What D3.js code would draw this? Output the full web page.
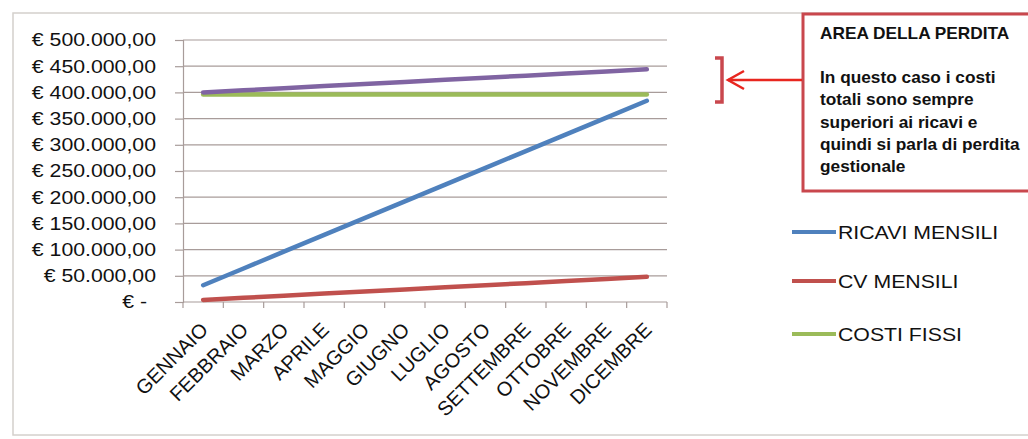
<!DOCTYPE html>
<html><head><meta charset="utf-8">
<script src="https://cdn.jsdelivr.net/npm/d3@7"></script>
<style>body{margin:0;background:#fff;}svg{display:block;font-family:"Liberation Sans",Arial,sans-serif;}</style>
</head><body><svg id="c" width="1028" height="439"></svg>
<script>
const months = ["GENNAIO","FEBBRAIO","MARZO","APRILE","MAGGIO","GIUGNO","LUGLIO","AGOSTO","SETTEMBRE","OTTOBRE","NOVEMBRE","DICEMBRE"];
const ricavi = [32000,64000,96000,128000,160000,192000,224000,256000,288000,320000,352000,384000];
const cvMensili = [4000,8000,12000,16000,20000,24000,28000,32000,36000,40000,44000,48000];
const costiFissi = [396000,396000,396000,396000,396000,396000,396000,396000,396000,396000,396000,396000];
const costiTotali = [400000,404000,408000,412000,416000,420000,424000,428000,432000,436000,440000,444000];
const yTicks = [0,50000,100000,150000,200000,250000,300000,350000,400000,450000,500000];
const noteTitle = "AREA DELLA PERDITA";
const noteLines = ["In questo caso i costi","totali sono sempre","superiori ai ricavi e","quindi si parla di perdita","gestionale"];

const svg = d3.select("#c");
const L = 183, R = 667, T = 40, B = 302;
const x = d3.scaleBand().domain(months).range([L, R]);
const y = d3.scaleLinear().domain([0, 500000]).range([B, T]);
const FF = "'Liberation Sans',Arial,sans-serif";

// outer frame
svg.append("rect").attr("x",13).attr("y",13).attr("width",1030).attr("height",422)
  .attr("fill","none").attr("stroke","#d4d0cc").attr("stroke-width",1.5);

// gridlines
svg.append("g").selectAll("line").data(yTicks.filter(d=>d>0)).join("line")
  .attr("x1",L).attr("x2",R).attr("y1",d=>y(d)).attr("y2",d=>y(d))
  .attr("stroke","#a89c9a").attr("stroke-width",1.2);

function fmt(v){
  if(v===0) return "€ -";
  return "€ " + d3.format(",.2f")(v).replace(/,/g,"#").replace(/\./g,",").replace(/#/g,".");
}
const yAxis = svg.append("g").attr("transform",`translate(${L},0)`)
  .call(d3.axisLeft(y).tickValues(yTicks).tickSize(8).tickPadding(19).tickFormat(fmt));
yAxis.select(".domain").attr("stroke","#a89c9a").attr("stroke-width",1.2);
yAxis.selectAll(".tick line").attr("stroke","#a89c9a").attr("stroke-width",1.2);
yAxis.selectAll("text").attr("font-size",18.5).attr("fill","#111").attr("font-family",FF)
  .attr("x",null)
  .attr("transform",d=>`translate(${d===0?-36:-27},0) scale(1.15,1)`);

// x axis
const xg = svg.append("g").attr("transform",`translate(0,${B})`);
xg.append("line").attr("x1",L).attr("x2",R).attr("stroke","#a89c9a").attr("stroke-width",1.2);
xg.selectAll("line.tk").data(months.map((m,i)=>i).concat([12])).join("line").attr("class","tk")
  .attr("x1",i=>L+i*x.bandwidth()).attr("x2",i=>L+i*x.bandwidth()).attr("y1",0).attr("y2",6)
  .attr("stroke","#a89c9a").attr("stroke-width",1.2);
xg.selectAll("text").data(months).join("text")
  .attr("transform",d=>`translate(${x(d)+x.bandwidth()/2+6},${29}) rotate(-45)`)
  .attr("text-anchor","end").attr("font-size",20).attr("fill","#111").text(d=>d);

// lines
const line = d3.line().x((d,i)=>x(months[i])+x.bandwidth()/2).y(d=>y(d));
const series = [
  {v:costiFissi,c:"#9bbb59"},
  {v:costiTotali,c:"#8064a2"},
  {v:cvMensili,c:"#c0504d"},
  {v:ricavi,c:"#4f81bd"}
];
svg.append("g").selectAll("path").data(series).join("path")
  .attr("d",d=>line(d.v)).attr("fill","none").attr("stroke",d=>d.c)
  .attr("stroke-width",4.5).attr("stroke-linecap","round");

// legend
const legend = [{n:"RICAVI MENSILI",c:"#4f81bd",y:232},{n:"CV MENSILI",c:"#c0504d",y:281},{n:"COSTI FISSI",c:"#9bbb59",y:334}];
const lg = svg.append("g").selectAll("g").data(legend).join("g");
lg.append("line").attr("x1",792).attr("x2",836).attr("y1",d=>d.y).attr("y2",d=>d.y)
  .attr("stroke",d=>d.c).attr("stroke-width",4);
lg.append("text").attr("transform",d=>`translate(838,${d.y+7}) scale(1.15,1)`)
  .attr("font-size",18.5).attr("fill","#111").text(d=>d.n);

// annotation box
svg.append("rect").attr("x",803).attr("y",14).attr("width",240).attr("height",177)
  .attr("fill","#fff").attr("stroke","#c9474d").attr("stroke-width",3);
svg.append("text").attr("transform","translate(820,39) scale(1.08,1)")
  .attr("font-size",16).attr("font-weight","bold").attr("fill","#111").text(noteTitle);
svg.append("g").selectAll("text").data(noteLines).join("text")
  .attr("transform",(d,i)=>`translate(820,${83+i*22.3}) scale(1.08,1)`)
  .attr("font-size",16).attr("font-weight","bold").attr("fill","#111").text(d=>d);

// arrow and bracket
svg.append("line").attr("x1",802).attr("x2",728).attr("y1",80).attr("y2",80).attr("stroke","#e8261f").attr("stroke-width",2.5);
svg.append("path").attr("d","M744,71 L728,80 L744,89").attr("fill","none").attr("stroke","#e8261f").attr("stroke-width",2.5);
svg.append("path").attr("d","M715,58 L722,58 L722,102 L715,102").attr("fill","none").attr("stroke","#c9474d").attr("stroke-width",3.5);
</script></body></html>
